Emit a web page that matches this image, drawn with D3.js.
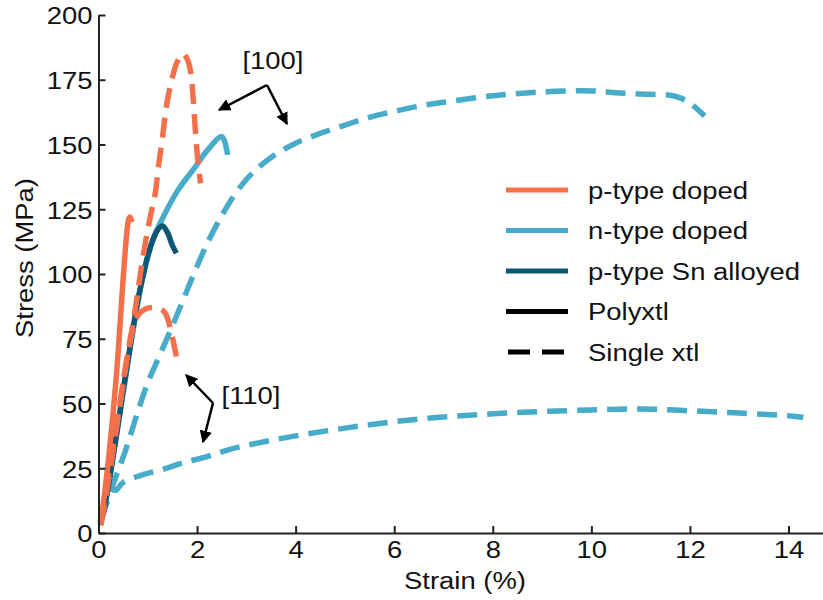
<!DOCTYPE html>
<html>
<head>
<meta charset="utf-8">
<script src="https://cdn.jsdelivr.net/npm/d3@7"></script>
<style>
  html, body { margin: 0; padding: 0; background: #fff; }
  svg { display: block; font-family: "Liberation Sans", Arial, Helvetica, sans-serif; }
</style>
</head>
<body>
<svg id="chart" width="823" height="600"></svg>
<script>
// Stress–strain curves, [strain %, stress MPa]
const pTypePoly = [[0.05,4],[0.2,28],[0.36,60],[0.5,98],[0.57,115],[0.61,121],[0.64,122],[0.68,120]];
const pType100 = [[0.05,4],[0.25,28],[0.45,52],[0.62,72],[0.75,87],[0.85,100],[0.95,112],[1.05,122],
  [1.15,131],[1.22,142],[1.3,153],[1.38,165],[1.5,176],[1.6,182],[1.71,185],[1.8,183],[1.87,178],
  [1.92,168],[1.96,157],[2.0,147],[2.04,140],[2.07,135]];
const pType110 = [[0.05,3],[0.2,20],[0.4,45],[0.6,70],[0.72,80],[0.8,84],[0.95,86.5],[1.15,87],
  [1.3,86],[1.38,84],[1.47,78],[1.55,71],[1.61,65]];
const nTypePoly = [[0.03,3],[0.1,8],[0.3,30],[0.5,54],[0.7,78],[0.9,99],[1.1,113],[1.3,121.5],
  [1.6,132],[1.95,141],[2.22,148],[2.5,153],[2.62,146]];
const nType100 = [[0.05,5],[0.3,19],[0.55,32],[0.8,47],[1.0,58],[1.25,69],[1.5,80],[1.75,91.5],
  [2.0,103],[2.25,113.5],[2.5,122.5],[2.75,130.3],[3.0,136.5],[3.25,141.2],[3.5,145],[3.75,148],
  [4.0,150.5],[4.5,154.3],[5.0,157.5],[5.5,160.5],[6.0,162.8],[6.5,164.8],[7.0,166.3],[8.0,168.8],
  [9.0,170.3],[10.0,170.7],[10.5,170],[11.0,169.5],[11.6,169],[11.8,168],[12.0,166],[12.3,161]];
const nType110 = [[0.05,5],[0.15,11],[0.27,17],[0.35,16.5],[0.5,19.5],[0.9,22.5],[1.3,24.5],[1.7,27],
  [2.2,29.5],[2.7,32.5],[3.3,35],[4,37.5],[5,40.5],[6,43],[7,44.8],[8,46],[9,46.9],[10,47.5],
  [11,47.9],[12,47.2],[13,46.3],[14,45.3],[14.3,44.7]];
const snPoly = [[0.03,4],[0.1,8],[0.3,30],[0.5,55],[0.6,67],[0.7,79],[0.8,90],[0.9,99],[1.0,107],
  [1.1,113],[1.2,117],[1.3,118.5],[1.4,116],[1.5,111],[1.58,108]];

const xTicks = [0, 2, 4, 6, 8, 10, 12, 14];
const yTicks = [0, 25, 50, 75, 100, 125, 150, 175, 200];
const legendLabels = ["p-type doped", "n-type doped", "p-type Sn alloyed", "Polyxtl", "Single xtl"];

const orange = "#f4704a", lightBlue = "#47abc9", darkBlue = "#0d5676";

const svg = d3.select("#chart");
const x = d3.scaleLinear().domain([0, 14.7]).range([98.5, 823]);
const y = d3.scaleLinear().domain([0, 200]).range([533, 15]);
const fs = 24.5;
const sx = 1.12; // horizontal stretch of the lettering

// widen a text element horizontally about its own anchor point
function stretch(sel) {
  sel.each(function() {
    const t = d3.select(this);
    const ax = +t.attr("x") || 0;
    t.attr("transform", `translate(${ax},0) scale(${sx},1) translate(${-ax},0)`);
  });
}

const line = d3.line().x(d => x(d[0])).y(d => y(d[1])).curve(d3.curveCatmullRom.alpha(0.5));

const series = [
  { data: nType110, color: lightBlue, dashed: true },
  { data: nType100, color: lightBlue, dashed: true },
  { data: nTypePoly, color: lightBlue, dashed: false },
  { data: snPoly, color: darkBlue, dashed: false },
  { data: pType110, color: orange, dashed: true },
  { data: pType100, color: orange, dashed: true },
  { data: pTypePoly, color: orange, dashed: false }
];

svg.append("g").selectAll("path").data(series).join("path")
  .attr("d", d => line(d.data))
  .attr("fill", "none")
  .attr("stroke", d => d.color)
  .attr("stroke-width", 5.5)
  .attr("stroke-dasharray", d => d.dashed ? "20,10" : null)
  .attr("stroke-linejoin", "round");

// Axes with inward ticks
const xAxis = svg.append("g").attr("transform", `translate(0,${y(0)})`)
  .call(d3.axisBottom(x).tickValues(xTicks).tickFormat(d3.format("d"))
    .tickSizeInner(-7).tickSizeOuter(0).tickPadding(8));
const yAxis = svg.append("g").attr("transform", `translate(${x(0)},0)`)
  .call(d3.axisLeft(y).tickValues(yTicks).tickFormat(d3.format("d"))
    .tickSizeInner(-7).tickSizeOuter(0).tickPadding(6));
[xAxis, yAxis].forEach(g => {
  g.select(".domain").attr("stroke", "#222").attr("stroke-width", 2);
  g.selectAll(".tick line").attr("stroke", "#222").attr("stroke-width", 2);
  g.selectAll(".tick text").attr("font-size", fs).attr("fill", "#111")
    .attr("font-family", "Liberation Sans, Arial, sans-serif")
    .call(stretch);
});
yAxis.selectAll(".tick text").attr("dy", "0.36em");

svg.append("text").attr("x", 465).attr("y", 589).attr("text-anchor", "middle")
  .attr("font-size", fs).attr("fill", "#111").text("Strain (%)").call(stretch);
svg.append("text").attr("transform", `translate(33,258) rotate(-90) scale(${sx},1)`).attr("text-anchor", "middle")
  .attr("font-size", fs).attr("fill", "#111").text("Stress (MPa)");

// Annotation arrows
svg.append("defs").append("marker")
  .attr("id", "head").attr("viewBox", "0 0 10 10").attr("refX", 9).attr("refY", 5)
  .attr("markerWidth", 5).attr("markerHeight", 5).attr("orient", "auto")
  .append("path").attr("d", "M0,0 L10,5 L0,10 Z").attr("fill", "#000");

function bentArrows(vx, vy, tips) {
  tips.forEach(t => {
    svg.append("line")
      .attr("x1", vx).attr("y1", vy).attr("x2", t[0]).attr("y2", t[1])
      .attr("stroke", "#000").attr("stroke-width", 2.5)
      .attr("marker-end", "url(#head)");
  });
}
bentArrows(267, 85, [[219, 110], [287, 124]]);
bentArrows(213, 403, [[186, 375], [203, 442]]);

svg.append("text").attr("x", 273).attr("y", 69).attr("text-anchor", "middle")
  .attr("font-size", fs).attr("fill", "#111").text("[100]").call(stretch);
svg.append("text").attr("x", 251).attr("y", 404).attr("text-anchor", "middle")
  .attr("font-size", fs).attr("fill", "#111").text("[110]").call(stretch);

// Legend
const legendItems = [
  { label: legendLabels[0], color: orange, dashed: false },
  { label: legendLabels[1], color: lightBlue, dashed: false },
  { label: legendLabels[2], color: darkBlue, dashed: false },
  { label: legendLabels[3], color: "#000", dashed: false },
  { label: legendLabels[4], color: "#000", dashed: true }
];
const lg = svg.append("g");
legendItems.forEach((d, i) => {
  const ly = 190 + i * 40.5;
  lg.append("line").attr("x1", d.dashed ? 508 : 506).attr("x2", 568).attr("y1", ly).attr("y2", ly)
    .attr("stroke", d.color).attr("stroke-width", 5)
    .attr("stroke-dasharray", d.dashed ? "22,12" : null);
  lg.append("text").attr("x", 588).attr("y", ly).attr("dy", "0.35em")
    .attr("font-size", fs).attr("fill", "#111").text(d.label).call(stretch);
});
</script>
</body>
</html>
